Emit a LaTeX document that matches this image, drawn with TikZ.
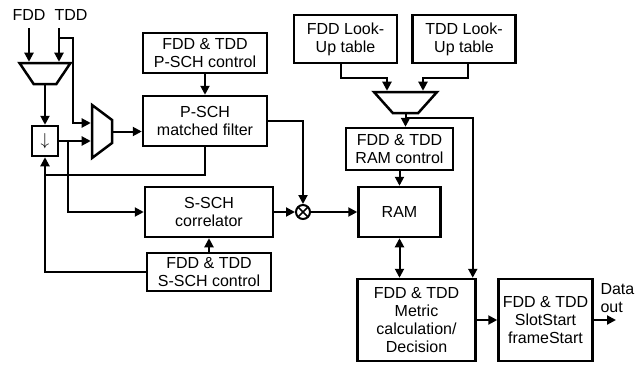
\documentclass[tikz,border=0pt]{standalone}
\usepackage{fontspec}
\setmainfont{Liberation Sans}
\usepackage{tikz}
\usetikzlibrary{shapes.geometric, arrows.meta}
\tikzstyle{block} = [rectangle, draw=black, line width=2.5pt, align=center, inner sep=1pt]
\tikzstyle{mux} = [trapezium, draw=black, line width=2.5pt, inner sep=0.5pt, trapezium stretches=true]
\tikzstyle{arrow} = [line width=2pt, ->, >={Triangle[length=9pt,width=9pt]}]
\tikzstyle{twoway} = [line width=2pt, <->, >={Triangle[length=9pt,width=9pt]}]
\tikzstyle{line} = [line width=2pt]

\begin{document}
\begin{tikzpicture}[x=1pt, y=1pt, font=\fontsize{16}{18}\selectfont]
\useasboundingbox (0,0) rectangle (639,-364);
\node (fdd) at (29,-15) {FDD};
\node (tdd) at (71,-15) {TDD};
\coordinate (fddin) at (29,-28);
\coordinate (tddin) at (59,-28);
\node (muxa) [mux, minimum width=51pt, minimum height=21pt, trapezium angle=58, shape border rotate=180] at (45,-73.5) {};
\node (down) [block, minimum width=26pt, minimum height=30pt, inner sep=0pt, font=\fontsize{19}{19}\selectfont] at (45,-141) {$\downarrow$};
\node (muxb) [mux, minimum width=53pt, minimum height=20pt, trapezium angle=57, shape border rotate=270] at (102,-131.5) {};
\node (pschctrl) [block, minimum width=124pt, minimum height=40pt] at (205,-53) {FDD \& TDD\\P-SCH control};
\node (matched) [block, minimum width=124pt, minimum height=50pt, node distance=68pt, below of=pschctrl] {P-SCH\\matched filter};
\node (correlator) [block, minimum width=128pt, minimum height=50pt, node distance=91pt, below of=matched, xshift=4pt] {S-SCH\\correlator};
\node (sschctrl) [block, minimum width=124pt, minimum height=38pt, node distance=60pt, below of=correlator] {FDD \& TDD\\S-SCH control};
\node (mult) [circle, draw=black, line width=2pt, minimum size=14pt, inner sep=0pt, path picture={\draw [line width=1.6pt] (path picture bounding box.north west) -- (path picture bounding box.south east) (path picture bounding box.south west) -- (path picture bounding box.north east);}] at (303,-212) {};
\node (fddlut) [block, minimum width=103pt, minimum height=48pt] at (345.5,-39) {FDD Look-\\Up table};
\node (tddlut) [block, minimum width=103pt, minimum height=48pt, node distance=118.5pt, right of=fddlut] {TDD Look-\\Up table};
\node (muxc) [mux, minimum width=63pt, minimum height=21pt, trapezium angle=53.6, shape border rotate=180] at (405.5,-102.5) {};
\node (ramctrl) [block, minimum width=107pt, minimum height=42pt, node distance=46.5pt, below of=muxc, xshift=-6pt] {FDD \& TDD\\RAM control};
\node (ram) [block, minimum width=82pt, minimum height=50pt, node distance=63pt, below of=ramctrl] {RAM};
\node (metric) [block, minimum width=118pt, minimum height=82pt, node distance=108pt, below of=ram, xshift=17pt] {FDD \& TDD\\Metric\\calculation/\\Decision};
\node (slot) [block, minimum width=94pt, minimum height=82pt, node distance=129pt, right of=metric] {FDD \& TDD\\SlotStart\\frameStart};
\coordinate (dataout) at (616,-320);
\node (outlabel) [align=left, anchor=west] at (597,-298) {Data\\out};
\draw [arrow] (fddin) -- (fddin |- muxa.north);
\draw [arrow] (tddin) -- (tddin |- muxa.north);
\draw [arrow] (muxa.south) -- (down.north);
\draw [arrow] ([yshift=-10pt]tddin) -- ++(14,0) |- ([yshift=8.5pt]muxb.west);
\draw [arrow] (down.east) -- (down.east -| muxb.west);
\draw [arrow] ([xshift=9pt]down.east) |- (correlator.west);
\draw [arrow] (muxb.east) -- (muxb.east -| matched.west);
\draw [arrow] (pschctrl) -- (matched);
\draw [arrow] (matched.east) -| (mult.north);
\draw [line] (matched.south) |- ([yshift=-18pt]down.south);
\draw [arrow] (sschctrl.west) -| (down.south);
\draw [arrow] (sschctrl) -- (correlator);
\draw [arrow] (correlator) -- (mult);
\draw [arrow] (mult) -- (ram);
\draw [arrow] ([xshift=-4.5pt]fddlut.south) -- ++(0,-14) -| ([xshift=-18.5pt]muxc.north);
\draw [arrow] ([xshift=4pt]tddlut.south) -- ++(0,-14) -| ([xshift=17.5pt]muxc.north);
\draw [arrow] (muxc.south) -- (muxc.south |- ramctrl.north);
\draw [arrow] ([yshift=-4pt]muxc.south) -| ([xshift=-4pt]metric.north east);
\draw [arrow] (ramctrl) -- (ram);
\draw [twoway] (ram.south) -- (ram.south |- metric.north);
\draw [arrow] (metric) -- (slot);
\draw [arrow] (slot.east) -- (dataout);
\end{tikzpicture}
\end{document}
